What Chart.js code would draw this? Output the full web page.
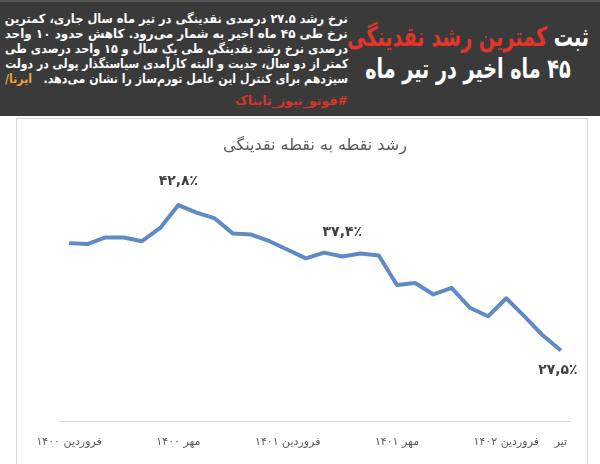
<!DOCTYPE html>
<html lang="fa">
<head>
<meta charset="utf-8">
<script src="https://cdn.jsdelivr.net/npm/chart.js@4.4.0/dist/chart.umd.min.js"></script>
<style>
  html, body { margin:0; padding:0; background:#ffffff; }
  body { width:600px; height:464px; position:relative; overflow:hidden; font-family:"DejaVu Sans", sans-serif; }
  #header { position:absolute; left:0; top:0; width:600px; height:116px; background:#3a3a3a; border-top:2px solid #555; box-sizing:border-box; overflow:hidden; }
  #headTitle { position:absolute; left:268px; top:19px; width:400px; text-align:center; direction:rtl;
    font-weight:bold; font-size:27px; line-height:32px; color:#ffffff; white-space:nowrap;
    transform:scaleX(0.71); transform-origin:200px 0; }
  #headTitle .red { color:#e2362c; }
  #para { position:absolute; left:5px; top:9px; width:343px; direction:rtl; color:#ffffff;
    font-weight:bold; font-size:12.5px; line-height:15px; }
  #para .ln { white-space:nowrap; width:343px; transform-origin:right top; }
  #para .ln span.t { display:inline-block; }
  #para .src { color:#e9a43c; }
  #para .tag { color:#d8352b; margin-top:7px; text-align:right; white-space:nowrap; }
  #panel { position:absolute; left:16px; top:118px; width:570px; height:360px; border:1px solid #d9d9d9; background:#fff; }
  #chart { position:absolute; left:17px; top:120px; }
</style>
</head>
<body>
<div id="header">
  <div id="headTitle"><div>ثبت <span class="red">کمترین رشد نقدینگی</span></div><div>۴۵ ماه اخیر در تیر ماه</div></div>
  <div id="para">
    <div class="ln"><span class="t">نرخ رشد ۲۷.۵ درصدی نقدینگی در تیر ماه سال جاری، کمترین</span></div>
    <div class="ln"><span class="t">نرخ طی ۴۵ ماه اخیر به شمار می‌رود. کاهش حدود ۱۰ واحد</span></div>
    <div class="ln"><span class="t">درصدی نرخ رشد نقدینگی طی یک سال و ۱۵ واحد درصدی طی</span></div>
    <div class="ln"><span class="t">کمتر از دو سال، جدیت و البته کارآمدی سیاستگذار پولی در دولت</span></div>
    <div class="ln"><span class="t">سیزدهم برای کنترل این عامل تورم‌ساز را نشان می‌دهد.&nbsp;&nbsp;&nbsp;<bdi class="src" dir="ltr">/ایرنا</bdi></span></div>
    <div class="tag">#فوتو_نیوز_تابناک</div>
  </div>
</div>
<div id="panel"></div>
<canvas id="chart" width="570" height="344"></canvas>
<script>
// fit each paragraph line to the column width (text layout only)
document.querySelectorAll("#para .ln").forEach(ln => {
  const t = ln.querySelector("span.t");
  const w = t.getBoundingClientRect().width;
  const target = 343;
  if (w > 0) {
    t.style.transformOrigin = "right top";
    t.style.transform = "scaleX(" + (target / w) + ")";
  }
});

// ---- data ----
const chartTitle = "رشد نقطه به نقطه نقدینگی";
const categories = [
  "فروردین ۱۴۰۰","اردیبهشت ۱۴۰۰","خرداد ۱۴۰۰","تیر ۱۴۰۰","مرداد ۱۴۰۰","شهریور ۱۴۰۰",
  "مهر ۱۴۰۰","آبان ۱۴۰۰","آذر ۱۴۰۰","دی ۱۴۰۰","بهمن ۱۴۰۰","اسفند ۱۴۰۰",
  "فروردین ۱۴۰۱","اردیبهشت ۱۴۰۱","خرداد ۱۴۰۱","تیر ۱۴۰۱","مرداد ۱۴۰۱","شهریور ۱۴۰۱",
  "مهر ۱۴۰۱","آبان ۱۴۰۱","آذر ۱۴۰۱","دی ۱۴۰۱","بهمن ۱۴۰۱","اسفند ۱۴۰۱",
  "فروردین ۱۴۰۲","اردیبهشت ۱۴۰۲","خرداد ۱۴۰۲","تیر ۱۴۰۲"
];
const growth = [
  38.8, 38.7, 39.4, 39.4, 39.0, 40.4, 42.8, 42.0, 41.4, 39.8, 39.7, 39.0,
  38.1, 37.2, 37.8, 37.4, 37.7, 37.5, 34.4, 34.6, 33.4, 34.1, 32.0, 31.1,
  33.0, 31.1, 29.1, 27.5
];
const tickLabels = [
  "فروردین ۱۴۰۰","","","","","",
  "مهر ۱۴۰۰","","","","","",
  "فروردین ۱۴۰۱","","","","","",
  "مهر ۱۴۰۱","","","","","",
  "فروردین ۱۴۰۲","","","تیر"
];
const labelledPoints = [6, 15, 27];

// ---- helpers ----
const faDigits = "۰۱۲۳۴۵۶۷۸۹";
function toFa(v){
  return v.toFixed(1).replace(".", ",").replace(/[0-9]/g, d => faDigits[+d]) + "٪";
}

const pointLabelPlugin = {
  id: "pointLabels",
  afterDatasetsDraw(chart){
    const meta = chart.getDatasetMeta(0);
    const ctx = chart.ctx;
    ctx.save();
    ctx.font = 'bold 14px "DejaVu Sans"';
    ctx.fillStyle = "#404040";
    ctx.textAlign = "center";
    ctx.textBaseline = "middle";
    labelledPoints.forEach((i, k) => {
      const p = meta.data[i];
      const below = (k === labelledPoints.length - 1);
      ctx.fillText(toFa(growth[i]), below ? p.x - 3 : p.x, below ? p.y + 20 : p.y - 24);
    });
    ctx.restore();
  }
};

new Chart(document.getElementById("chart"), {
  type: "line",
  data: {
    labels: categories,
    datasets: [{
      data: growth,
      borderColor: "#5f8ac6",
      borderWidth: 4,
      pointRadius: 0,
      tension: 0,
      fill: false,
      borderJoinStyle: "round"
    }]
  },
  options: {
    responsive: false,
    animation: false,
    layout: { padding: { left: 43, right: 17, top: 0, bottom: 1 } },
    plugins: {
      legend: { display: false },
      tooltip: { enabled: false },
      title: {
        display: true,
        text: chartTitle,
        color: "#595959",
        font: { family: "DejaVu Sans", size: 16, weight: "normal" },
        padding: { top: 16, bottom: 29 }
      }
    },
    scales: {
      x: {
        offset: true,
        grid: { display: false, drawTicks: false },
        border: { display: true, color: "#d9d9d9", width: 1 },
        ticks: {
          autoSkip: false,
          maxRotation: 0,
          minRotation: 0,
          padding: 14,
          color: "#595959",
          font: { family: "DejaVu Sans", size: 11 },
          callback: (v, i) => tickLabels[i]
        }
      },
      y: {
        display: false,
        min: 20,
        max: 45
      }
    }
  },
  plugins: [pointLabelPlugin]
});
</script>
</body>
</html>
